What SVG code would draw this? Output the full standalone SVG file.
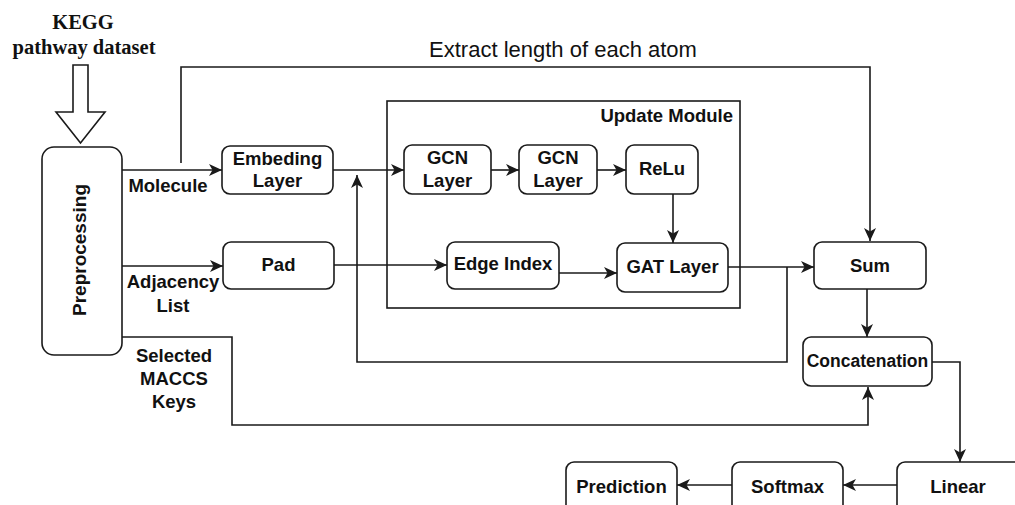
<svg xmlns="http://www.w3.org/2000/svg" width="1015" height="505" viewBox="0 0 1015 505">
  <style>
    .box { fill: #ffffff; stroke: #1a1a1a; stroke-width: 1.6; }
    .frame { fill: none; stroke: #1a1a1a; stroke-width: 1.6; }
    .lbl { font-family: "Liberation Sans", Arial, sans-serif; font-weight: bold; font-size: 18.5px; fill: #111; text-anchor: middle; }
    .plain { font-family: "Liberation Sans", Arial, sans-serif; font-size: 22px; fill: #111; text-anchor: middle; }
    .serif { font-family: "Liberation Serif", "Times New Roman", serif; font-weight: bold; font-size: 20.5px; fill: #111; text-anchor: middle; }
    .wire { fill: none; stroke: #1a1a1a; stroke-width: 1.6; }
  </style>
  <defs>
    <marker id="arr" markerUnits="userSpaceOnUse" markerWidth="15" markerHeight="14" refX="13" refY="6" orient="auto">
      <path d="M0,0 L13,6 L0,12 L3.5,6 z" fill="#1a1a1a"/>
    </marker>
  </defs>
  <rect width="1015" height="505" fill="#ffffff"/>

  <g id="title">
    <text class="serif" x="83" y="29">KEGG</text>
    <text class="serif" x="84" y="54">pathway dataset</text>
    <path d="M73,65 L88,65 L88,112 L105,112 L80.5,143 L56,112 L73,112 Z" fill="#ffffff" stroke="#1a1a1a" stroke-width="1.6"/>
  </g>

  <g id="update-module">
    <rect class="frame" x="387" y="101" width="353" height="207"/>
    <text class="lbl" x="733" y="122" style="text-anchor:end">Update Module</text>
  </g>

  <g id="connectors">
    <path class="wire" d="M181,163 L181,67 L870,67 L870,241" marker-end="url(#arr)"/>
    <text class="plain" x="563" y="57">Extract length of each atom</text>
    <path class="wire" d="M122,170 L222,170" marker-end="url(#arr)"/>
    <path class="wire" d="M122,266 L223,266" marker-end="url(#arr)"/>
    <path class="wire" d="M122,337 L232,337 L232,425 L868,425 L868,387" marker-end="url(#arr)"/>
    <path class="wire" d="M333,170 L404,170" marker-end="url(#arr)"/>
    <path class="wire" d="M491,170 L519,170" marker-end="url(#arr)"/>
    <path class="wire" d="M597,170 L626,170" marker-end="url(#arr)"/>
    <path class="wire" d="M673,194 L673,243" marker-end="url(#arr)"/>
    <path class="wire" d="M334,265 L447,265" marker-end="url(#arr)"/>
    <path class="wire" d="M559,273 L617,273" marker-end="url(#arr)"/>
    <path class="wire" d="M728,267 L814,267" marker-end="url(#arr)"/>
    <path class="wire" d="M787,267 L787,362 L357,362 L357,175" marker-end="url(#arr)"/>
    <path class="wire" d="M867,289 L867,337" marker-end="url(#arr)"/>
    <path class="wire" d="M932,362 L960,362 L960,462" marker-end="url(#arr)"/>
    <path class="wire" d="M897,485 L843,485" marker-end="url(#arr)"/>
    <path class="wire" d="M732,485 L677,485" marker-end="url(#arr)"/>
    <text class="lbl" x="168" y="192">Molecule</text>
    <text class="lbl" x="173" y="288">Adjacency</text>
    <text class="lbl" x="173" y="312">List</text>
    <text class="lbl" x="174" y="362">Selected</text>
    <text class="lbl" x="174" y="385">MACCS</text>
    <text class="lbl" x="174" y="408">Keys</text>
  </g>

  <g id="preprocessing">
    <rect class="box" x="42" y="147" width="80" height="208" rx="12"/>
    <text class="lbl" transform="translate(80,250) rotate(-90)" x="0" y="6" style="font-size:19px">Preprocessing</text>
  </g>

  <g id="embeding">
    <rect class="box" x="222" y="146" width="111" height="48" rx="8"/>
    <text class="lbl" x="277.5" y="165">Embeding</text>
    <text class="lbl" x="277.5" y="187">Layer</text>
  </g>

  <g id="pad">
    <rect class="box" x="223" y="242" width="111" height="47" rx="8"/>
    <text class="lbl" x="278.5" y="271">Pad</text>
  </g>

  <g id="gcn1">
    <rect class="box" x="404" y="145" width="87" height="49" rx="8"/>
    <text class="lbl" x="447.5" y="164">GCN</text>
    <text class="lbl" x="447.5" y="187">Layer</text>
  </g>

  <g id="gcn2">
    <rect class="box" x="519" y="145" width="78" height="49" rx="8"/>
    <text class="lbl" x="558" y="164">GCN</text>
    <text class="lbl" x="558" y="187">Layer</text>
  </g>

  <g id="relu">
    <rect class="box" x="626" y="145" width="72" height="49" rx="8"/>
    <text class="lbl" x="662" y="175">ReLu</text>
  </g>

  <g id="edge-index">
    <rect class="box" x="447" y="242" width="112" height="47" rx="8"/>
    <text class="lbl" x="503" y="270">Edge Index</text>
  </g>

  <g id="gat">
    <rect class="box" x="617" y="243" width="111" height="49" rx="8"/>
    <text class="lbl" x="672.5" y="273">GAT Layer</text>
  </g>

  <g id="sum">
    <rect class="box" x="814" y="242" width="112" height="47" rx="8"/>
    <text class="lbl" x="870" y="272">Sum</text>
  </g>

  <g id="concatenation">
    <rect class="box" x="803" y="337" width="129" height="49" rx="8"/>
    <text class="lbl" x="867.5" y="367" style="font-size:17.5px">Concatenation</text>
  </g>

  <g id="linear">
    <rect class="box" x="897" y="462" width="130" height="60" rx="8"/>
    <text class="lbl" x="958" y="493">Linear</text>
  </g>

  <g id="softmax">
    <rect class="box" x="732" y="462" width="111" height="60" rx="8"/>
    <text class="lbl" x="787.5" y="493">Softmax</text>
  </g>

  <g id="prediction">
    <rect class="box" x="566" y="462" width="111" height="60" rx="8"/>
    <text class="lbl" x="621.5" y="493">Prediction</text>
  </g>
</svg>
